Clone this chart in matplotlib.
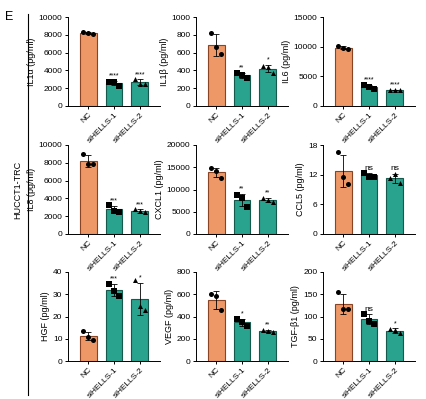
import numpy as np
import matplotlib.pyplot as plt

plt.rcParams['font.family'] = ['Liberation Sans', 'DejaVu Sans']

groups = ['NC', 'siHELLS-1', 'siHELLS-2']

# 각 패널 데이터 (개별 점 3개씩)
il1a = [[8260, 8190, 8040], [2740, 2740, 2300], [3040, 2480, 2480]]
il1b = [[820, 665, 580], [373, 343, 317], [451, 440, 373]]
il6 = [[10050, 9770, 9650], [3560, 3220, 2930], [2760, 2760, 2760]]
il8 = [[8980, 7810, 7810], [3210, 2640, 2450], [2790, 2530, 2450]]
cxcl1 = [[14720, 14190, 12600], [8750, 8080, 6040], [8150, 7550, 7170]]
ccl5 = [[16.5, 11.6, 10.2], [12.4, 11.6, 11.6], [11.4, 12.1, 10.3]]
hgf = [[13.4, 10.6, 9.6], [34.7, 31.5, 29.2], [36.2, 24.8, 22.8]]
vegf = [[605, 587, 456], [377, 347, 319], [280, 274, 262]]
tgfb1 = [[154, 116, 116], [106, 91, 84], [72, 70, 63]]

panels = [
    ('IL1α (pg/ml)', il1a, [0, 2000, 4000, 6000, 8000, 10000], ['', '****', '****']),
    ('IL1β (pg/ml)', il1b, [0, 200, 400, 600, 800, 1000], ['', '**', '*']),
    ('IL6 (pg/ml)', il6, [0, 5000, 10000, 15000], ['', '****', '****']),
    ('IL8 (pg/ml)', il8, [0, 2000, 4000, 6000, 8000, 10000], ['', '***', '***']),
    ('CXCL1 (pg/ml)', cxcl1, [0, 5000, 10000, 15000, 20000], ['', '**', '**']),
    ('CCL5 (pg/ml)', ccl5, [0, 6, 12, 18], ['', 'ns', 'ns']),
    ('HGF (pg/ml)', hgf, [0, 10, 20, 30, 40], ['', '***', '*']),
    ('VEGF (pg/ml)', vegf, [0, 200, 400, 600, 800], ['', '*', '**']),
    ('TGF-β1 (pg/ml)', tgfb1, [0, 50, 100, 150, 200], ['', 'ns', '*']),
]

face = ['#EE9868', '#2AA38E', '#2AA38E']
edge = ['#8A4424', '#17594D', '#17594D']
markers = ['o', 's', '^']

W, H = 426, 399
fig = plt.figure(figsize=(W / 100, H / 100), dpi=100)

lefts = [68, 196, 323]
tops = [17, 145, 272]
aw, ah = 92, 89

for i, (label, data, yt, sig) in enumerate(panels):
    r, c = divmod(i, 3)
    ax = fig.add_axes([lefts[c] / W, 1 - (tops[r] + ah) / H, aw / W, ah / H])
    x = np.arange(3)
    means = [np.mean(d) for d in data]
    sds = [np.std(d, ddof=1) for d in data]
    ax.bar(x, means, width=0.65, color=face, edgecolor=edge, linewidth=0.8, zorder=1)
    ax.errorbar(x, means, yerr=sds, fmt='none', ecolor='black', elinewidth=0.6,
                capsize=2.5, capthick=0.6, zorder=3)
    for j, d in enumerate(data):
        off = np.array([-0.2, 0.0, 0.2])
        ax.scatter(x[j] + off, d, marker=markers[j], s=13, color='black', zorder=4, linewidths=0)
        if sig[j]:
            top = means[j] + sds[j]
            ax.text(x[j], top + yt[-1] * 0.015, sig[j], ha='center', va='bottom',
                    fontsize=6 if sig[j] == 'ns' else 5)
    ax.set_xlim(-0.78, 2.78)
    ax.set_ylim(0, yt[-1])
    ax.set_yticks(yt)
    ax.set_yticklabels([str(v) for v in yt], fontsize=6)
    ax.set_xticks(x)
    ax.set_xticklabels(groups, rotation=45, ha='right', rotation_mode='anchor', fontsize=6)
    ax.set_ylabel(label, fontsize=6.5, labelpad=2)
    for s in ['top', 'right']:
        ax.spines[s].set_visible(False)
    for s in ['left', 'bottom']:
        ax.spines[s].set_linewidth(0.7)
    ax.tick_params(length=2.5, width=0.7, pad=1.5)

# 왼쪽 세로선과 라벨
fig.add_artist(plt.Line2D([28 / W, 28 / W], [1 - 14 / H, 1 - 395 / H], color='black', lw=0.8))
fig.text(18 / W, 1 - 190 / H, 'HUCCT1-TRC', rotation=90, ha='center', va='center', fontsize=6.5)
fig.text(5 / W, 1 - 17 / H, 'E', ha='left', va='center', fontsize=9)

fig.savefig('out.png', dpi=100)
